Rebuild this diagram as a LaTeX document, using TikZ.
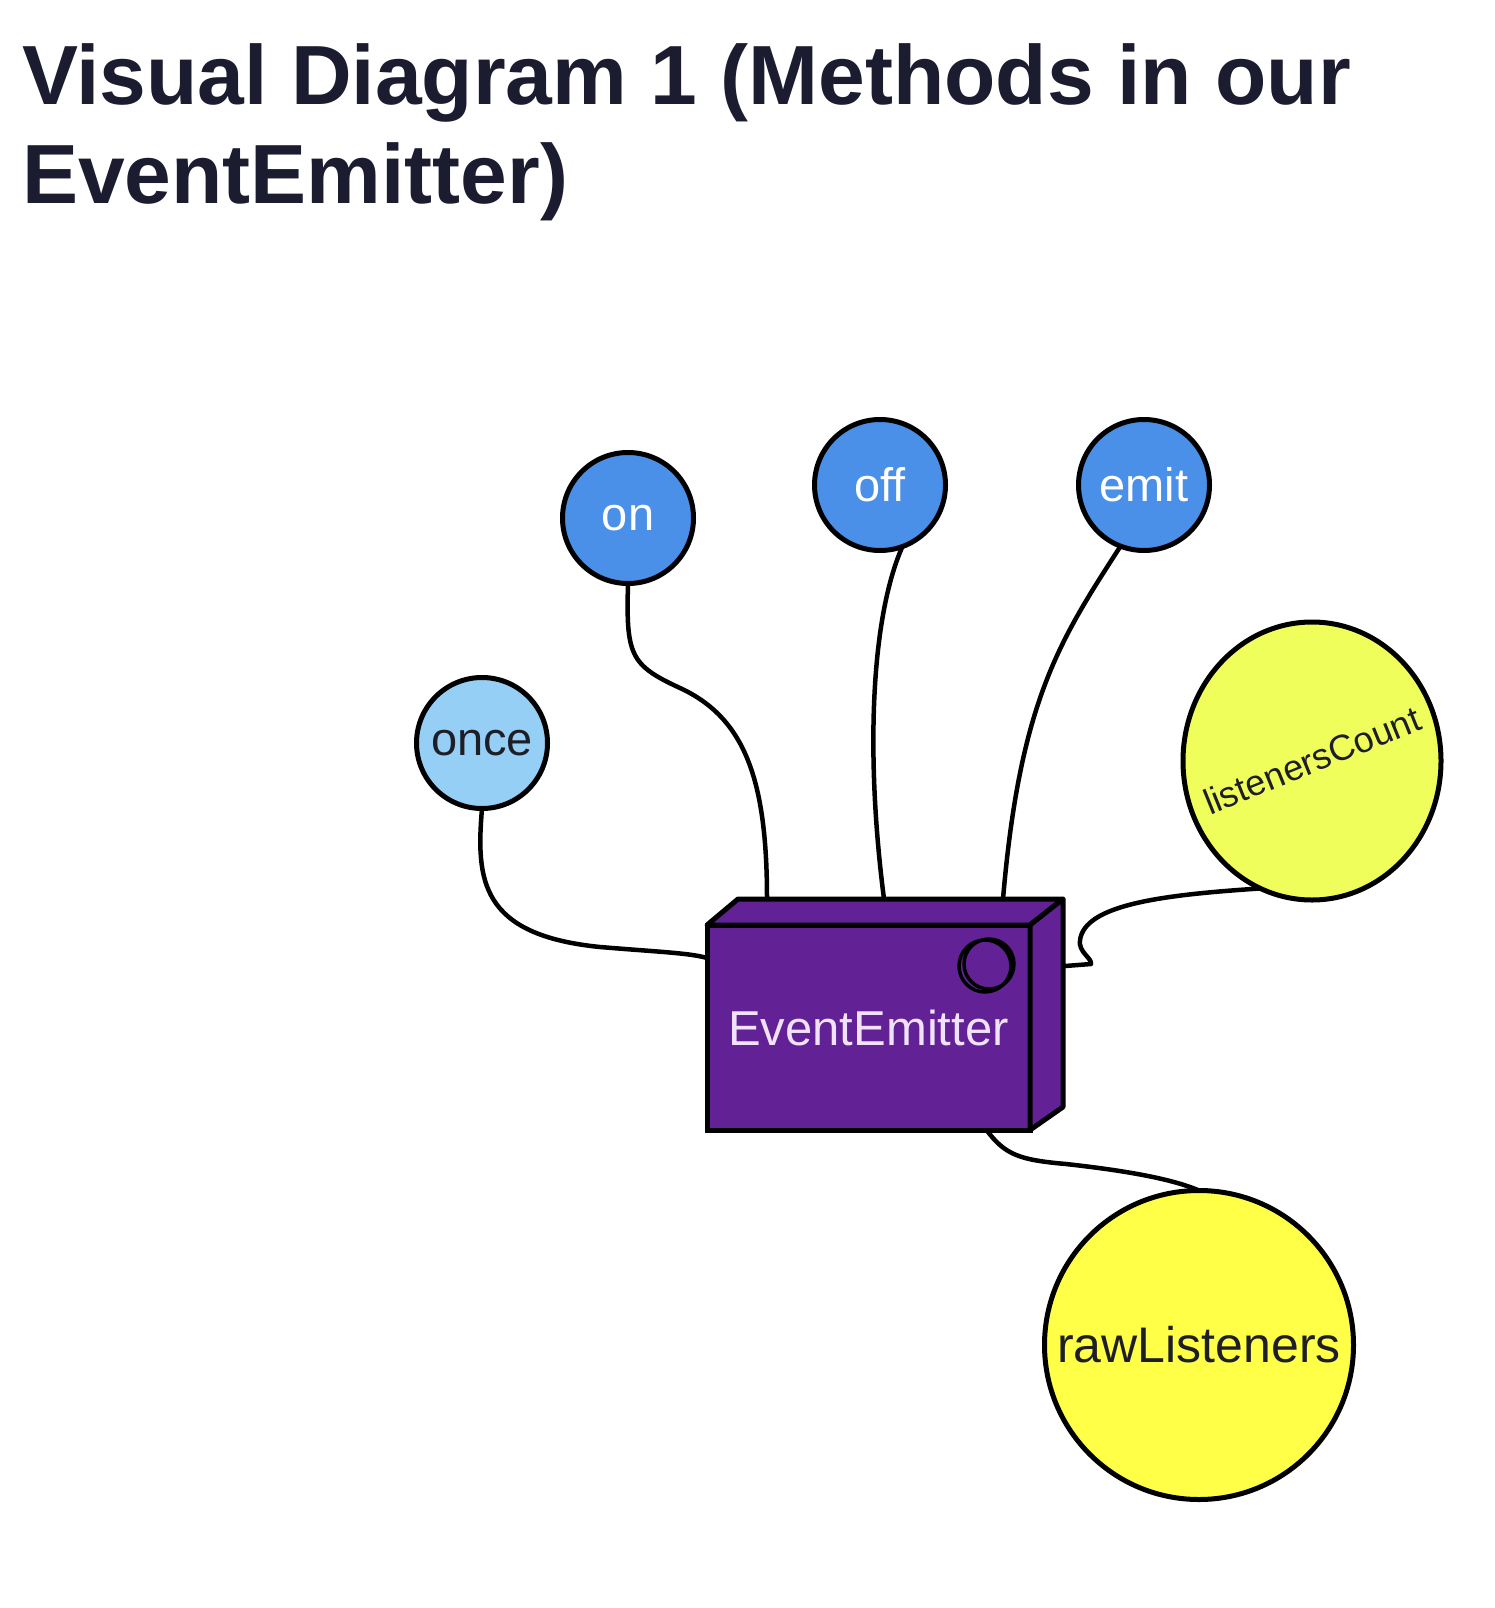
\documentclass[tikz,border=0pt]{standalone}
\usepackage{fontspec}
\setmainfont[Ligatures=NoCommon]{Liberation Sans}
\usetikzlibrary{shapes.geometric}
\definecolor{titlecol}{RGB}{28,28,48}
\definecolor{methblue}{RGB}{74,144,232}
\definecolor{lightblue}{RGB}{150,207,245}
\definecolor{lcyellow}{RGB}{240,254,92}
\definecolor{rawyellow}{RGB}{255,255,72}
\definecolor{boxpurple}{RGB}{98,34,150}
\definecolor{boxtext}{RGB}{240,226,250}
\definecolor{darktext}{RGB}{30,30,40}
\begin{document}
\begin{tikzpicture}[x=1pt,y=-1pt,
  conn/.style={line width=4.5pt, line cap=round, line join=round},
  titletext/.style={anchor=base west, inner sep=0, outer sep=0, text=titlecol, font=\fontsize{84}{100}\selectfont\bfseries},
  method/.style={circle, draw=black, line width=5pt, inner sep=0, outer sep=0, minimum size=131pt, fill=methblue, text=white, font=\fontsize{47}{50}\selectfont},
  onceball/.style={method, fill=lightblue, text=darktext},
  bigball/.style={circle, draw=black, line width=5pt, inner sep=0, outer sep=0, minimum size=309pt, fill=rawyellow, text=darktext, font=\fontsize{50}{54}\selectfont},
  lcball/.style={ellipse, draw=black, line width=5pt, inner sep=0, outer sep=0, minimum width=258pt, minimum height=278pt, fill=lcyellow, text=darktext, font=\fontsize{36}{40}\selectfont},
  boxnode/.style={rectangle, draw=black, line width=5pt, inner sep=0, outer sep=0, minimum width=323pt, minimum height=205pt, fill=boxpurple, text=boxtext, font=\fontsize{49}{52}\selectfont},
  face/.style={draw=black, line width=5pt, fill=boxpurple, line join=round},
  knob/.style={draw=black, line width=3.5pt}
]
\useasboundingbox (0,0) rectangle (1494,1608);
\fill[white] (0,0) rectangle (1494,1608);

% title
\node[titletext] (title1) at (22,105) {Visual Diagram 1 (Methods in our};
\node[titletext] (title2) at (22,204) {EventEmitter)};

% box
\node[boxnode] (box) at (868.5,1027.5) {EventEmitter};
\draw[face] (box.north west) -- ([shift={(31,-26)}]box.north west) -- ([shift={(33,-26)}]box.north east) -- (box.north east) -- cycle;
\draw[face] (box.north east) -- ([shift={(33,-26)}]box.north east) -- ([shift={(33,-23)}]box.south east) -- (box.south east) -- cycle;
\draw[knob] (989,964) circle[radius=25];
\draw[knob] (985,966) circle[radius=26];

% method nodes
\node[onceball] (once) at (482,743) {once};
\node[method] (on) at (628,518) {on};
\node[method] (off) at (880,485) {off};
\node[method] (emit) at (1144,485) {emit};
\node[lcball] (lc) at (1312,761) {\makebox[0pt]{\smash{\raisebox{-12pt}{\rotatebox[origin=c]{22}{listenersCount}}}}};
\node[bigball] (raw) at (1199,1345) {rawListeners};

% connectors
\draw[conn] (once.south) .. controls (476,880) and (480,935) .. (600,947) .. controls (660,952) and (690,953) .. ([yshift=-33pt]box.north west);
\draw[conn] (on.south) .. controls (626,655) and (630,665) .. (680,688) .. controls (745,718) and (767,780) .. ([shift={(60,-26)}]box.north west);
\draw[conn] (off.-70) .. controls (870,620) and (866,760) .. ([shift={(177,-26)}]box.north west);
\draw[conn] (emit.-111) .. controls (1060,640) and (1020,700) .. ([shift={(296,-26)}]box.north west);
\draw[conn] (lc.-112) .. controls (1160,895) and (1085,905) .. (1080,940) .. controls (1078,952) and (1092,958) .. (1091,964) -- ([shift={(35,41)}]box.north east);
\draw[conn] ([xshift=118pt]box.south) .. controls (1005,1155) and (1020,1160) .. (1066,1164) .. controls (1120,1170) and (1170,1178) .. (raw.north);
\end{tikzpicture}
\end{document}
